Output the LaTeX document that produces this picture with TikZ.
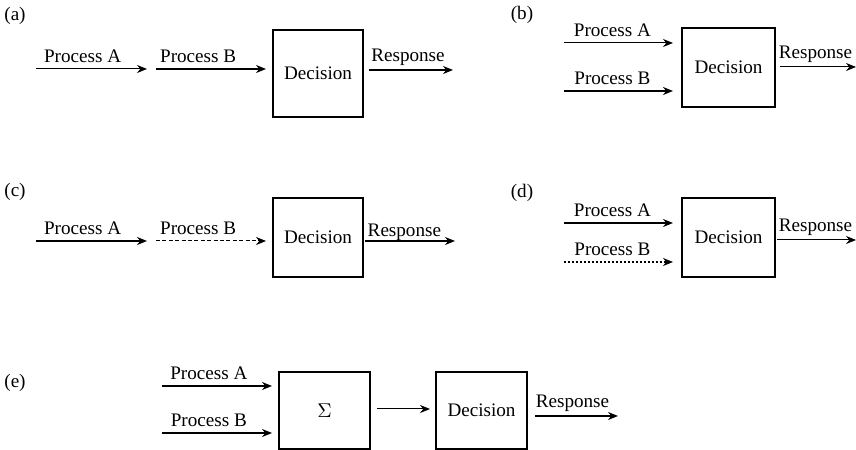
\documentclass[tikz,border=0pt]{standalone}
\usepackage{fontspec}
\setmainfont{Liberation Serif}
\usetikzlibrary{arrows.meta}
\begin{document}
\begin{tikzpicture}[x=0.5bp,y=-0.5bp,inner sep=0pt,outer sep=0pt,line width=0.5bp,
>={Stealth[length=5bp,width=4bp]},font=\fontsize{9.6}{11}\selectfont,
decblock/.style={draw,rectangle,line width=0.7bp,minimum width=45bp,minimum height=39.5bp},
lbl/.style={anchor=base,yshift=3bp},
heavy/.style={line width=1bp}]
\useasboundingbox (0,0) rectangle (856,450);
% (a)
\node (a-tag) at (15,16) {(a)};
\draw (318,73.5) node[decblock,minimum height=43.5bp] (a-dec) {Decision};
\coordinate (a-a0) at (36,69); \coordinate (a-a1) at (147,69);
\coordinate (a-b0) at (156,69); \coordinate (a-r1) at (453,70);
\draw[->] (a-a0) -- (a-a1) node[lbl,pos=0.42] (a-la) {Process A};
\draw[->,heavy,shorten >=3.5bp] (a-b0) -- (a-dec.west |- a-b0) node[lbl,pos=0.36] (a-lb) {Process B};
\draw[->,line width=0.7bp,shorten <=3bp] (a-dec.east |- a-r1) -- (a-r1) node[lbl,pos=0.5,yshift=1bp] (a-lr) {Response};
% (b)
\node (b-tag) at (522,15) {(b)};
\draw (728.5,67.5) node[decblock,minimum width=46.5bp] (b-dec) {Decision};
\coordinate (b-a0) at (564,43); \coordinate (b-b0) at (564,91); \coordinate (b-r1) at (856,67);
\draw[->,shorten >=4.5bp] (b-a0) -- (b-dec.west |- b-a0) node[lbl,pos=0.41] (b-la) {Process A};
\draw[->,heavy,shorten >=4.5bp] (b-b0) -- (b-dec.west |- b-b0) node[lbl,pos=0.41] (b-lb) {Process B};
\draw[->,shorten <=2.5bp] (b-dec.east |- b-r1) -- (b-r1) node[lbl,pos=0.5,yshift=1bp] (b-lr) {Response};
% (c)
\node (c-tag) at (15,192) {(c)};
\draw (318,237.5) node[decblock] (c-dec) {Decision};
\coordinate (c-a0) at (36,241); \coordinate (c-a1) at (147,241);
\coordinate (c-b0) at (156,241); \coordinate (c-r1) at (455,241);
\draw[->,heavy] (c-a0) -- (c-a1) node[lbl,pos=0.42] (c-la) {Process A};
\draw[->,dash pattern=on 2bp off 1.2bp,shorten >=3.5bp] (c-b0) -- (c-dec.west |- c-b0) node[lbl,pos=0.36] (c-lb) {Process B};
\draw[->,heavy,shorten <=1bp] (c-dec.east |- c-r1) -- (c-r1) node[lbl,pos=0.45,yshift=-1bp] (c-lr) {Response};
% (d)
\node (d-tag) at (522,193) {(d)};
\draw (728.5,237.5) node[decblock,minimum width=46.5bp] (d-dec) {Decision};
\coordinate (d-a0) at (564,223); \coordinate (d-b0) at (564,262); \coordinate (d-r1) at (856,240);
\draw[->,heavy,shorten >=4.5bp] (d-a0) -- (d-dec.west |- d-a0) node[lbl,pos=0.41] (d-la) {Process A};
\draw[->,heavy,dash pattern=on 1bp off 1bp,shorten >=4.5bp] (d-b0) -- (d-dec.west |- d-b0) node[lbl,pos=0.41] (d-lb) {Process B};
\draw[->,shorten <=1bp] (d-dec.east |- d-r1) -- (d-r1) node[lbl,pos=0.5,yshift=1bp] (d-lr) {Response};
% (e)
\node (e-tag) at (15,383) {(e)};
\draw (324.5,410.5) node[decblock,minimum width=45.5bp,minimum height=38.5bp] (e-sum) {$\Sigma$};
\draw (481.5,410.5) node[decblock,minimum width=45.5bp,minimum height=38.5bp] (e-dec) {Decision};
\coordinate (e-a0) at (162,386); \coordinate (e-b0) at (162,433); \coordinate (e-r1) at (618,416);
\draw[->,heavy,shorten >=3.5bp] (e-a0) -- (e-sum.west |- e-a0) node[lbl,pos=0.4] (e-la) {Process A};
\draw[->,line width=0.7bp,shorten >=3.5bp] (e-b0) -- (e-sum.west |- e-b0) node[lbl,pos=0.4] (e-lb) {Process B};
\draw[->,shorten <=3.5bp,shorten >=3bp] (e-sum.east |- 0,409) -- (e-dec.west |- 0,409);
\draw[->,heavy,shorten <=4bp] (e-dec.east |- e-r1) -- (e-r1) node[lbl,pos=0.5,yshift=1bp] (e-lr) {Response};
\end{tikzpicture}
\end{document}
